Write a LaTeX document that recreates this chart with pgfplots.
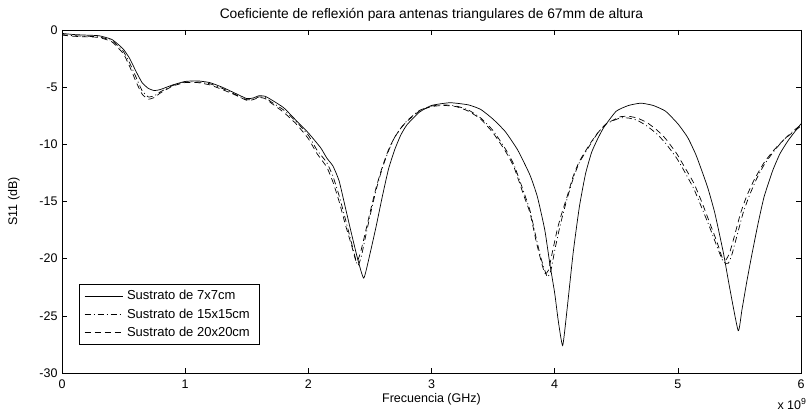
\documentclass[border=0pt]{standalone}
\usepackage{pgfplots}
\pgfplotsset{compat=1.18}
\usepackage{fontspec}
\setmainfont{Liberation Sans}
\begin{document}
\begin{tikzpicture}[font=\fontsize{12.5}{14}\selectfont]
\begin{axis}[
  scale only axis, width=739pt, height=343pt,
  xmin=0, xmax=6, ymin=-30, ymax=0,
  xtick={0,1,2,3,4,5,6}, ytick={-30,-25,-20,-15,-10,-5,0},
  /pgf/number format/assume math mode=true,
  tick align=inside, major tick length=5pt,
  axis line style={line width=0.6pt}, tick style={line width=0.6pt, black},
  title={Coeficiente de reflexión para antenas triangulares de 67mm de altura},
  title style={at={(axis description cs:0.5,1)}, anchor=base, yshift=5pt, font=\fontsize{13.8}{15}\selectfont},
  xlabel={Frecuencia (GHz)}, ylabel={S11 (dB)},
  xlabel style={at={(axis description cs:0.5,0)}, anchor=center, yshift=-26pt},
  ylabel style={at={(axis description cs:-0.065,0.5)}, anchor=center},
  xticklabel style={yshift=-3pt},
  yticklabel style={xshift=-1pt},
  legend style={at={(0,0)}, anchor=south west, xshift=17pt, yshift=28pt,
    draw=black, line width=0.6pt, font=\fontsize{13}{14}\selectfont,
    row sep=3.5pt, inner xsep=5pt, inner ysep=4.5pt,
    nodes={inner xsep=4pt}},
  legend cell align=left,
  legend image code/.code={\draw[#1] (0pt,0pt) -- (38pt,0pt);},
  every axis plot/.append style={line width=0.7pt, black, smooth, tension=0.3},
]
\addplot[solid] coordinates {
(0,-0.3) (0.1,-0.4) (0.2,-0.45) (0.3,-0.5) (0.4,-0.8) (0.45,-1.2) (0.5,-1.7) (0.55,-2.5) (0.6,-3.6) (0.65,-4.6) (0.7,-5.1) (0.75,-5.3) (0.8,-5.2) (0.9,-4.8) (1.0,-4.5) (1.1,-4.45) (1.2,-4.6) (1.3,-5.0) (1.4,-5.5) (1.5,-6.0) (1.55,-5.95) (1.6,-5.75) (1.65,-5.8) (1.7,-6.1) (1.8,-6.8) (1.9,-7.9) (2.0,-9.0) (2.1,-10.3) (2.15,-11.2) (2.2,-11.9) (2.25,-13.2) (2.3,-15.5) (2.35,-17.8) (2.4,-20.0) (2.45,-21.7) (2.5,-19.6) (2.55,-17.2) (2.6,-14.6) (2.65,-12.2) (2.7,-10.5) (2.75,-9.2) (2.8,-8.3) (2.9,-7.2) (3.0,-6.6) (3.15,-6.36) (3.3,-6.55) (3.4,-6.95) (3.5,-7.8) (3.6,-8.9) (3.7,-10.5) (3.8,-12.7) (3.86,-14.6) (3.92,-17.5) (3.96,-20.4) (4.0,-23.0) (4.03,-25.5) (4.065,-27.6) (4.1,-24.5) (4.15,-19.5) (4.2,-15.5) (4.25,-12.6) (4.3,-10.7) (4.35,-9.5) (4.4,-8.5) (4.5,-7.1) (4.6,-6.6) (4.7,-6.4) (4.8,-6.6) (4.9,-7.1) (5.0,-8.2) (5.08,-9.4) (5.15,-11.0) (5.24,-13.7) (5.3,-16.0) (5.37,-19.5) (5.42,-22.5) (5.49,-26.3) (5.52,-24.5) (5.56,-22.0) (5.6,-19.7) (5.65,-17.0) (5.7,-14.6) (5.77,-12.3) (5.83,-10.8) (5.9,-9.6) (6.0,-8.2)
};
\addlegendentry{Sustrato de 7x7cm}
\addplot[dash pattern=on 6pt off 3pt on 1pt off 3pt] coordinates {
(0,-0.4) (0.1,-0.5) (0.2,-0.55) (0.3,-0.6) (0.4,-0.9) (0.45,-1.35) (0.5,-1.9) (0.55,-2.9) (0.6,-4.1) (0.65,-5.3) (0.7,-5.85) (0.75,-5.75) (0.8,-5.4) (0.9,-4.85) (1.0,-4.55) (1.1,-4.55) (1.2,-4.7) (1.3,-5.1) (1.4,-5.6) (1.5,-6.1) (1.55,-6.05) (1.6,-5.85) (1.65,-5.9) (1.7,-6.3) (1.8,-7.0) (1.9,-8.0) (2.0,-9.2) (2.07,-10.5) (2.15,-11.6) (2.2,-12.8) (2.25,-14.5) (2.3,-16.5) (2.35,-18.6) (2.4,-20.6) (2.43,-19.8) (2.46,-18.3) (2.5,-16.3) (2.55,-14.0) (2.6,-12.1) (2.65,-10.6) (2.7,-9.4) (2.75,-8.6) (2.8,-7.95) (2.9,-7.05) (3.0,-6.65) (3.1,-6.55) (3.2,-6.65) (3.3,-7.0) (3.4,-7.7) (3.5,-8.8) (3.6,-10.4) (3.67,-11.8) (3.75,-14.2) (3.8,-15.8) (3.85,-18.2) (3.89,-20.0) (3.94,-21.6) (3.97,-21.0) (4.0,-19.3) (4.04,-17.3) (4.07,-16.0) (4.1,-14.8) (4.15,-13.0) (4.2,-11.6) (4.29,-10.0) (4.35,-9.0) (4.42,-8.2) (4.53,-7.7) (4.6,-7.7) (4.67,-7.9) (4.75,-8.4) (4.83,-9.1) (4.9,-9.9) (4.99,-11.2) (5.05,-12.3) (5.13,-13.9) (5.2,-15.7) (5.26,-17.3) (5.32,-19.0) (5.37,-20.3) (5.41,-20.4) (5.44,-19.6) (5.48,-18.0) (5.53,-16.0) (5.58,-14.5) (5.64,-13.0) (5.7,-11.8) (5.78,-10.6) (5.86,-9.6) (5.94,-8.8) (6.0,-8.3)
};
\addlegendentry{Sustrato de 15x15cm}
\addplot[dash pattern=on 6pt off 4pt] coordinates {
(0,-0.45) (0.1,-0.55) (0.2,-0.6) (0.3,-0.65) (0.4,-1.0) (0.45,-1.5) (0.5,-2.1) (0.55,-3.2) (0.6,-4.5) (0.65,-5.6) (0.7,-6.05) (0.75,-5.9) (0.8,-5.5) (0.9,-4.9) (1.0,-4.6) (1.1,-4.6) (1.2,-4.8) (1.3,-5.2) (1.4,-5.65) (1.5,-6.15) (1.55,-6.1) (1.6,-5.9) (1.65,-6.0) (1.7,-6.4) (1.8,-7.2) (1.9,-8.2) (2.0,-9.5) (2.07,-10.8) (2.15,-12.0) (2.2,-13.3) (2.25,-15.0) (2.3,-17.0) (2.35,-18.8) (2.39,-20.3) (2.42,-19.6) (2.45,-18.3) (2.5,-16.0) (2.55,-13.8) (2.6,-12.0) (2.65,-10.5) (2.7,-9.4) (2.75,-8.6) (2.8,-8.0) (2.9,-7.1) (3.0,-6.7) (3.1,-6.6) (3.2,-6.7) (3.3,-7.1) (3.4,-7.8) (3.5,-9.0) (3.6,-10.6) (3.67,-12.0) (3.75,-14.5) (3.8,-16.0) (3.85,-18.5) (3.88,-19.8) (3.92,-21.3) (3.95,-21.0) (3.98,-19.5) (4.02,-17.5) (4.05,-16.3) (4.1,-14.6) (4.15,-12.8) (4.2,-11.5) (4.29,-9.9) (4.35,-9.0) (4.42,-8.2) (4.53,-7.6) (4.6,-7.55) (4.67,-7.7) (4.75,-8.1) (4.83,-8.75) (4.9,-9.5) (4.99,-10.8) (5.05,-11.9) (5.13,-13.4) (5.2,-15.2) (5.26,-16.9) (5.32,-18.6) (5.36,-19.9) (5.39,-20.1) (5.42,-19.5) (5.46,-18.0) (5.51,-16.0) (5.56,-14.5) (5.62,-13.1) (5.7,-11.6) (5.78,-10.5) (5.86,-9.6) (5.94,-8.9) (6.0,-8.4)
};
\addlegendentry{Sustrato de 20x20cm}
\end{axis}
\path (current axis.south east) ++(-9pt,-31pt) node[anchor=center, inner sep=0pt] {x 10\textsuperscript{9}};
\pgfresetboundingbox
\path (current axis.south west) ++(-62pt,-42pt) coordinate (bl);
\path (current axis.north east) ++(8pt,30pt) coordinate (tr);
\path (bl) rectangle (tr);
\end{tikzpicture}
\end{document}
